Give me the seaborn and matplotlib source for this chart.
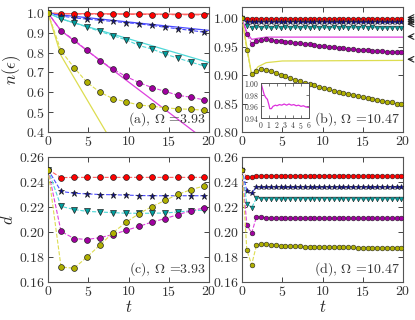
import numpy as np
import matplotlib
matplotlib.use("Agg")
import matplotlib.pyplot as plt
import seaborn as sns

sns.set_style("ticks")
plt.rcParams['font.family'] = ['cmr10', 'DejaVu Serif']
plt.rcParams['mathtext.fontset'] = 'cm'
plt.rcParams['axes.formatter.use_mathtext'] = True
plt.rcParams['axes.unicode_minus'] = False

# ---- data: slow drive (a), (c) ----
t_slow = [0, 1.62, 3.23, 4.85, 6.46, 8.08, 9.69, 11.31, 12.92, 14.54, 16.15, 17.77, 19.38]
n_red = [1.0, 0.996, 0.995, 0.995, 0.994, 0.994, 0.993, 0.993, 0.992, 0.992, 0.991, 0.991, 0.990]
n_blue = [1.0, 0.985, 0.975, 0.969, 0.963, 0.957, 0.951, 0.945, 0.937, 0.928, 0.920, 0.912, 0.903]
n_cyan = [1.0, 0.971, 0.950, 0.929, 0.907, 0.885, 0.865, 0.836, 0.818, 0.793, 0.772, 0.752, 0.733]
n_mag = [1.0, 0.910, 0.865, 0.811, 0.760, 0.717, 0.680, 0.649, 0.624, 0.605, 0.585, 0.575, 0.562]
n_oli = [1.0, 0.809, 0.725, 0.650, 0.600, 0.568, 0.552, 0.536, 0.530, 0.522, 0.517, 0.514, 0.510]

# analytic (solid) curves in (a)
ta_line = [0, 1.62, 20]
na_red = [1.0, 0.997, 0.993]
na_blue = [1.0, 0.990, 0.912]
na_cyan = [1.0, 0.970, 0.750]
na_mag = [1.0, 0.910, 0.345]
na_oli = [1.0, 0.785, -0.48]

d_red = [0.250, 0.2435, 0.2437, 0.2437, 0.2437, 0.2437, 0.2437, 0.2437, 0.2437, 0.2437, 0.2437, 0.2437, 0.2437]
d_blue = [0.250, 0.2325, 0.231, 0.2305, 0.230, 0.2298, 0.2295, 0.2292, 0.229, 0.229, 0.229, 0.229, 0.229]
d_cyan = [0.250, 0.2205, 0.218, 0.2165, 0.216, 0.2155, 0.215, 0.215, 0.215, 0.2152, 0.216, 0.217, 0.2175]
d_mag = [0.250, 0.2005, 0.1948, 0.194, 0.1955, 0.198, 0.2013, 0.2045, 0.208, 0.2107, 0.2139, 0.217, 0.2192]
d_oli = [0.250, 0.172, 0.171, 0.180, 0.1896, 0.1995, 0.2077, 0.2147, 0.2203, 0.2253, 0.2301, 0.2339, 0.2368]

# ---- data: fast drive (b), (d) ----
t_fast = [0.0, 0.6, 1.2, 1.8, 2.4, 3.0, 3.6, 4.2, 4.8, 5.4, 6.0, 6.6, 7.2, 7.8, 8.4, 9.0, 9.6,
          10.2, 10.8, 11.4, 12.0, 12.6, 13.2, 13.8, 14.4, 15.0, 15.6, 16.2, 16.8, 17.4, 18.0,
          18.6, 19.2, 19.8]
nb_red = [1.0, 0.998, 0.998, 0.998, 0.998, 0.998, 0.998, 0.998, 0.998, 0.998, 0.998, 0.998,
          0.998, 0.998, 0.998, 0.998, 0.998, 0.998, 0.998, 0.998, 0.998, 0.998, 0.998, 0.998,
          0.998, 0.998, 0.998, 0.998, 0.998, 0.998, 0.998, 0.998, 0.998, 0.998]
nb_blue = [1.0, 0.994, 0.993, 0.993, 0.993, 0.993, 0.993, 0.993, 0.993, 0.993, 0.993, 0.993,
           0.993, 0.993, 0.993, 0.993, 0.993, 0.993, 0.993, 0.993, 0.993, 0.993, 0.993, 0.993,
           0.993, 0.993, 0.993, 0.993, 0.993, 0.993, 0.993, 0.993, 0.993, 0.993]
nb_cyan = [1.0, 0.987, 0.983, 0.985, 0.983, 0.984, 0.983, 0.984, 0.983, 0.984, 0.983, 0.984,
           0.983, 0.984, 0.983, 0.984, 0.983, 0.984, 0.983, 0.984, 0.983, 0.984, 0.983, 0.984,
           0.983, 0.984, 0.983, 0.984, 0.983, 0.983, 0.983, 0.983, 0.983, 0.983]
nb_mag = [1.0, 0.973, 0.955, 0.960, 0.962, 0.963, 0.962, 0.961, 0.960, 0.959, 0.958, 0.957,
          0.956, 0.955, 0.954, 0.953, 0.952, 0.951, 0.950, 0.949, 0.948, 0.947, 0.946, 0.946,
          0.945, 0.944, 0.944, 0.943, 0.942, 0.942, 0.941, 0.941, 0.940, 0.940]
nb_oli = [1.0, 0.944, 0.902, 0.907, 0.910, 0.909, 0.907, 0.904, 0.901, 0.898, 0.895, 0.892,
          0.889, 0.887, 0.884, 0.882, 0.879, 0.877, 0.875, 0.873, 0.871, 0.869, 0.867, 0.865,
          0.863, 0.861, 0.860, 0.858, 0.856, 0.855, 0.853, 0.852, 0.850, 0.849]

# asymptotic (solid) curves in (b)
tb_line = [0, 0.6, 1.2, 2.0, 3.0, 5.0, 20.0]
nbl_red = [1.0, 0.9995, 0.9995, 0.9995, 0.9995, 0.9995, 0.9995]
nbl_mag = [1.0, 0.975, 0.963, 0.965, 0.967, 0.967, 0.967]
nbl_oli = [1.0, 0.950, 0.900, 0.915, 0.922, 0.925, 0.926]

arrow_vals = [1.0015, 0.9975, 0.994, 0.990, 0.968, 0.928]

# inset of (b)
t_ins = [0, 0.2, 0.4, 0.6, 0.8, 1.0, 1.1, 1.3, 1.5, 1.8, 2.0, 2.3, 2.6, 2.9, 3.2, 3.5, 3.8,
         4.1, 4.4, 4.7, 5.0, 5.3, 5.6, 6.0]
n_ins = [1.0, 0.99, 0.98, 0.975, 0.972, 0.962, 0.956, 0.956, 0.960, 0.962, 0.961, 0.963,
         0.962, 0.964, 0.962, 0.964, 0.962, 0.963, 0.961, 0.962, 0.960, 0.961, 0.959, 0.958]

db_red = [0.250, 0.2438, 0.2437, 0.2449, 0.245, 0.245, 0.245, 0.245, 0.245, 0.245, 0.245, 0.245,
          0.245, 0.245, 0.245, 0.245, 0.245, 0.245, 0.245, 0.245, 0.245, 0.245, 0.245, 0.245,
          0.245, 0.245, 0.245, 0.245, 0.245, 0.245, 0.245, 0.245, 0.245, 0.245]
db_blue = [0.250, 0.233, 0.231, 0.2362, 0.2358, 0.2358, 0.2358, 0.2358, 0.2358, 0.2358, 0.2358,
           0.2358, 0.2358, 0.2358, 0.2358, 0.2358, 0.2358, 0.2358, 0.2358, 0.2358, 0.2358,
           0.2358, 0.2358, 0.2358, 0.2358, 0.2358, 0.2358, 0.2358, 0.2358, 0.2358, 0.2358,
           0.2358, 0.2358, 0.2358]
db_cyan = [0.250, 0.2227, 0.2195, 0.2272, 0.2265, 0.2265, 0.2265, 0.2265, 0.2265, 0.2265, 0.2265,
           0.2265, 0.2265, 0.2265, 0.2265, 0.2265, 0.2265, 0.2265, 0.2265, 0.2265, 0.2265,
           0.2265, 0.2265, 0.2265, 0.2265, 0.2265, 0.2265, 0.2265, 0.2265, 0.2265, 0.2265,
           0.2265, 0.2265, 0.2265]
db_mag = [0.250, 0.2057, 0.1992, 0.2122, 0.2118, 0.2115, 0.2113, 0.2112, 0.2111, 0.211, 0.211,
          0.211, 0.211, 0.211, 0.211, 0.211, 0.211, 0.211, 0.211, 0.211, 0.211, 0.211, 0.211,
          0.211, 0.211, 0.211, 0.211, 0.211, 0.211, 0.211, 0.211, 0.211, 0.211, 0.211]
db_oli = [0.250, 0.1855, 0.1738, 0.1895, 0.1905, 0.1905, 0.1900, 0.1895, 0.1890, 0.1888,
          0.1886, 0.1885, 0.1884, 0.1883, 0.1882, 0.1881, 0.1880, 0.1880, 0.1879, 0.1879,
          0.1878, 0.1878, 0.1877, 0.1877, 0.1876, 0.1876, 0.1876, 0.1875, 0.1875, 0.1875,
          0.1875, 0.1875, 0.1875, 0.1875]

# style per series: (line colour, marker face, marker)
styles = {
    'red': ('#ff6060', '#ff0000', 'o'),
    'blue': ('#4a4aff', '#0a0a9a', '*'),
    'cyan': ('#4fd8d8', '#009f9f', 'v'),
    'mag': ('#dd40dd', '#a000a0', 'o'),
    'oli': ('#dddd50', '#b0b000', 'o'),
}


def marked(ax, t, y, key, ms, mew=0.5):
    lc, fc, mk = styles[key]
    size = ms * 1.15 if mk == '*' else ms
    sns.lineplot(x=t, y=y, ax=ax, color=lc, linestyle='--', lw=0.8, marker=mk,
                 markersize=size, markerfacecolor=fc, markeredgecolor='#222222',
                 markeredgewidth=mew, estimator=None, sort=False, zorder=3)


def solid(ax, t, y, key):
    sns.lineplot(x=t, y=y, ax=ax, color=styles[key][0], lw=0.9, estimator=None,
                 sort=False, zorder=2)


def style_axes(ax):
    ax.set_xlim(0, 20)
    ax.set_xticks([0, 5, 10, 15, 20])
    ax.tick_params(direction='in', top=True, right=True, labelsize=10, length=3.5,
                   width=0.7, colors='#444444', labelcolor='#333333', pad=2)
    for s in ax.spines.values():
        s.set_color('#555555')
        s.set_linewidth(0.8)
    ax.set_xlabel('')
    ax.set_ylabel('')


fig = plt.figure(figsize=(4.15, 3.2), dpi=100)
W, H = 415, 320


def box(l, t, r, b):
    return [l / W, 1 - b / H, (r - l) / W, (b - t) / H]


ax_a = fig.add_axes(box(48, 7, 209, 132))
ax_b = fig.add_axes(box(242, 7, 403, 132))
ax_c = fig.add_axes(box(48, 157, 209, 282))
ax_d = fig.add_axes(box(242, 157, 403, 282))

# (a)
for key, yl in zip(['red', 'blue', 'cyan', 'mag', 'oli'], [na_red, na_blue, na_cyan, na_mag, na_oli]):
    solid(ax_a, ta_line, yl, key)
for key, ym in zip(['red', 'blue', 'cyan', 'mag', 'oli'], [n_red, n_blue, n_cyan, n_mag, n_oli]):
    marked(ax_a, t_slow, ym, key, 4.2)
style_axes(ax_a)
ax_a.set_ylim(0.4, 1.03)
ax_a.set_yticks([0.4, 0.5, 0.6, 0.7, 0.8, 0.9, 1.0])
ax_a.set_ylabel(r'$n(\epsilon)$', fontsize=12, labelpad=2)
ax_a.text(0.98, 0.03, r'(a), $\Omega$ =3.93', transform=ax_a.transAxes, ha='right',
          va='bottom', fontsize=10, color='#333333')

# (b)
for key, yl in zip(['red', 'mag', 'oli'], [nbl_red, nbl_mag, nbl_oli]):
    solid(ax_b, tb_line, yl, key)
for key, ym in zip(['red', 'blue', 'cyan', 'mag', 'oli'], [nb_red, nb_blue, nb_cyan, nb_mag, nb_oli]):
    marked(ax_b, t_fast, ym, key, 3.4, mew=0.4)
style_axes(ax_b)
ax_b.set_ylim(0.80, 1.02)
ax_b.set_yticks([0.80, 0.85, 0.90, 0.95, 1.00])
ax_b.text(0.98, 0.03, r'(b), $\Omega$ =10.47', transform=ax_b.transAxes, ha='right',
          va='bottom', fontsize=10, color='#333333')
for v in arrow_vals:
    ax_b.annotate('', xy=(1.008, v), xycoords=('axes fraction', 'data'),
                  xytext=(1.075, v), textcoords=('axes fraction', 'data'),
                  arrowprops=dict(arrowstyle='->', lw=0.8, color='#222222'),
                  annotation_clip=False)

ax_in = fig.add_axes(box(261, 83, 309, 118))
sns.lineplot(x=t_ins, y=n_ins, ax=ax_in, color='#dd30dd', lw=0.9, estimator=None, sort=False)
ax_in.set_xlim(0, 6)
ax_in.set_ylim(0.94, 1.0)
ax_in.set_xticks([0, 1, 2, 3, 4, 5, 6])
ax_in.set_yticks([0.94, 0.96, 0.98, 1.00])
ax_in.tick_params(direction='in', top=True, right=True, labelsize=5.5, length=2,
                  width=0.5, pad=1.5, colors='#444444', labelcolor='#333333')
for s in ax_in.spines.values():
    s.set_color('#555555')
    s.set_linewidth(0.7)
ax_in.set_xlabel('')
ax_in.set_ylabel('')

# (c)
for key, ym in zip(['red', 'blue', 'cyan', 'mag', 'oli'], [d_red, d_blue, d_cyan, d_mag, d_oli]):
    marked(ax_c, t_slow, ym, key, 4.2)
style_axes(ax_c)
ax_c.set_ylim(0.16, 0.26)
ax_c.set_yticks([0.16, 0.18, 0.20, 0.22, 0.24, 0.26])
ax_c.set_ylabel(r'$d$', fontsize=12, labelpad=2)
ax_c.set_xlabel(r'$t$', fontsize=12, labelpad=0)
ax_c.text(0.98, 0.03, r'(c), $\Omega$ =3.93', transform=ax_c.transAxes, ha='right',
          va='bottom', fontsize=10, color='#333333')

# (d)
for key, ym in zip(['red', 'blue', 'cyan', 'mag', 'oli'], [db_red, db_blue, db_cyan, db_mag, db_oli]):
    marked(ax_d, t_fast, ym, key, 3.4, mew=0.4)
style_axes(ax_d)
ax_d.set_ylim(0.16, 0.26)
ax_d.set_yticks([0.16, 0.18, 0.20, 0.22, 0.24, 0.26])
ax_d.set_xlabel(r'$t$', fontsize=12, labelpad=0)
ax_d.text(0.98, 0.03, r'(d), $\Omega$ =10.47', transform=ax_d.transAxes, ha='right',
          va='bottom', fontsize=10, color='#333333')

fig.savefig('out.png', dpi=100)
